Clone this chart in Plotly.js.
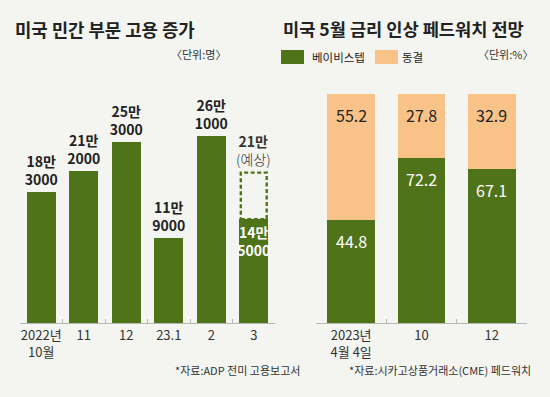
<!DOCTYPE html>
<html>
<head>
<meta charset="utf-8">
<script src="https://cdn.plot.ly/plotly-3.0.1.min.js"></script>
<style>
  html, body { margin: 0; padding: 0; background: #f4f5f0; }
  #chart { width: 550px; height: 397px; }
</style>
</head>
<body>
<div id="chart"></div>
<script>
// ---- data ----
const hiringCategories = ['2022년<br>10월', '11', '12', '23.1', '2', '3'];
const hiringValues = [183000, 212000, 253000, 119000, 261000, 145000];
const hiringLabels = ['18만<br>3000', '21만<br>2000', '25만<br>3000', '11만<br>9000', '26만<br>1000', '14만<br>5000'];
const forecastCategory = '3';
const forecastValue = 210000;
const forecastLabel = '<b>21만</b><br>(예상)';

const fedCategories = ['2023년<br>4월 4일', '10', '12'];
const seriesNames = ['베이비스텝', '동결'];
const babyStepValues = [44.8, 72.2, 67.1];
const holdValues = [55.2, 27.8, 32.9];

const titles = ['미국 민간 부문 고용 증가', '미국 5월 금리 인상 페드워치 전망'];
const units = ['〈단위:명〉', '〈단위:%〉'];
const sources = ['*자료:ADP 전미 고용보고서', '*자료:시카고상품거래소(CME) 페드워치'];

// ---- style ----
const W = 550, H = 397;
const GREEN = '#4f7319';
const ORANGE = '#f8c288';
const BG = '#f4f5f0';
const NUM = '"Noto Sans CJK KR", sans-serif';
const KR = '"Noto Sans CJK KR", sans-serif';
const BARGAP = 0.32;
const px = x => x / W;
const py = y => 1 - y / H;

const forecastIdx = hiringCategories.indexOf(forecastCategory);

const traces = [
  {
    type: 'bar', x: hiringCategories, y: hiringValues, xaxis: 'x', yaxis: 'y',
    marker: { color: GREEN },
    text: hiringLabels,
    textposition: hiringValues.map((v, i) => i === forecastIdx ? 'inside' : 'outside'),
    insidetextanchor: 'end',
    constraintext: 'none',
    textfont: { family: NUM, size: 14, weight: 'bold',
      color: hiringValues.map((v, i) => i === forecastIdx ? '#ffffff' : '#222222') },
    cliponaxis: false, hoverinfo: 'skip', showlegend: false
  },
  {
    type: 'bar', x: fedCategories, y: babyStepValues, name: seriesNames[0], xaxis: 'x2', yaxis: 'y2',
    marker: { color: GREEN }, hoverinfo: 'skip', showlegend: false
  },
  {
    type: 'bar', x: fedCategories, y: holdValues, name: seriesNames[1], xaxis: 'x2', yaxis: 'y2',
    marker: { color: ORANGE }, hoverinfo: 'skip', showlegend: false
  }
];

const annotations = [];
// titles
annotations.push({ xref: 'paper', yref: 'paper', x: px(13), y: py(29), xanchor: 'left', yanchor: 'middle',
  text: titles[0], showarrow: false, font: { family: KR, size: 17.8, weight: 'bold', color: '#222' } });
annotations.push({ xref: 'paper', yref: 'paper', x: px(281), y: py(29), xanchor: 'left', yanchor: 'middle',
  text: titles[1], showarrow: false, font: { family: KR, size: 17.6, weight: 'bold', color: '#222' } });
// units
annotations.push({ xref: 'paper', yref: 'paper', x: px(228), y: py(54), xanchor: 'right', yanchor: 'middle',
  text: units[0], showarrow: false, font: { family: KR, size: 11, color: '#333' } });
annotations.push({ xref: 'paper', yref: 'paper', x: px(535), y: py(54), xanchor: 'right', yanchor: 'middle',
  text: units[1], showarrow: false, font: { family: KR, size: 11, color: '#333' } });
// legend text
annotations.push({ xref: 'paper', yref: 'paper', x: px(310), y: py(57), xanchor: 'left', yanchor: 'middle',
  text: seriesNames[0], showarrow: false, font: { family: KR, size: 11.5, color: '#222' } });
annotations.push({ xref: 'paper', yref: 'paper', x: px(400), y: py(57), xanchor: 'left', yanchor: 'middle',
  text: seriesNames[1], showarrow: false, font: { family: KR, size: 11.5, color: '#222' } });
// sources
annotations.push({ xref: 'paper', yref: 'paper', x: px(302), y: py(370), xanchor: 'right', yanchor: 'middle',
  text: sources[0], showarrow: false, font: { family: KR, size: 11, color: '#333' } });
annotations.push({ xref: 'paper', yref: 'paper', x: px(533), y: py(370), xanchor: 'right', yanchor: 'middle',
  text: sources[1], showarrow: false, font: { family: KR, size: 11, color: '#333' } });
// forecast label (category index used for position on category axis)
annotations.push({ xref: 'x', yref: 'y', x: forecastIdx, y: forecastValue, yanchor: 'bottom', yshift: 2,
  text: forecastLabel, showarrow: false, font: { family: NUM, size: 14, weight: 300, color: '#333' } });
// right chart labels
fedCategories.forEach((c, i) => {
  annotations.push({ xref: 'x2', yref: 'y2', x: i, y: babyStepValues[i], yanchor: 'top', yshift: -7,
    text: babyStepValues[i].toFixed(1), showarrow: false,
    font: { family: NUM, size: 16, color: '#ffffff' } });
  annotations.push({ xref: 'x2', yref: 'y2', x: i, y: babyStepValues[i] + holdValues[i], yanchor: 'top', yshift: -7,
    text: holdValues[i].toFixed(1), showarrow: false,
    font: { family: NUM, size: 16, color: '#222' } });
});

const half = (1 - BARGAP) / 2;
const shapes = [
  // dashed forecast outline
  { type: 'rect', xref: 'x', yref: 'y', x0: forecastIdx - half + 0.035, x1: forecastIdx + half - 0.035,
    y0: hiringValues[forecastIdx], y1: forecastValue,
    line: { color: GREEN, width: 2.4, dash: '4px,2.5px' }, fillcolor: 'rgba(0,0,0,0)', layer: 'below' },
  // legend swatches
  { type: 'rect', xref: 'paper', yref: 'paper', x0: px(281), x1: px(304), y0: py(64), y1: py(50),
    line: { width: 0 }, fillcolor: GREEN },
  { type: 'rect', xref: 'paper', yref: 'paper', x0: px(375), x1: px(398), y0: py(64), y1: py(50),
    line: { width: 0 }, fillcolor: ORANGE }
];

const axisCommon = {
  type: 'category', showline: true, linecolor: '#b8b8b2', linewidth: 1,
  ticks: 'inside', tickson: 'boundaries', ticklen: 4, tickcolor: '#b8b8b2', tickwidth: 1,
  showgrid: false, zeroline: false, fixedrange: true, tickangle: 0,
  tickfont: { family: NUM, size: 13, color: '#333' }
};

const layout = {
  width: W, height: H,
  margin: { l: 0, r: 0, t: 0, b: 0 },
  paper_bgcolor: BG, plot_bgcolor: 'rgba(0,0,0,0)',
  barmode: 'stack', bargap: BARGAP,
  showlegend: false,
  xaxis: Object.assign({}, axisCommon, { domain: [px(20), px(275)], anchor: 'y',
    range: [-0.5, hiringCategories.length - 0.5] }),
  yaxis: { domain: [py(323), py(108.2)], range: [0, 300000], visible: false, fixedrange: true },
  xaxis2: Object.assign({}, axisCommon, { domain: [px(316), px(527)], anchor: 'y2',
    range: [-0.5, fedCategories.length - 0.5] }),
  yaxis2: { domain: [py(323), py(94)], range: [0, 100], visible: false, fixedrange: true },
  annotations: annotations,
  shapes: shapes
};

Plotly.newPlot('chart', traces, layout, { displayModeBar: false, staticPlot: true });
</script>
</body>
</html>
